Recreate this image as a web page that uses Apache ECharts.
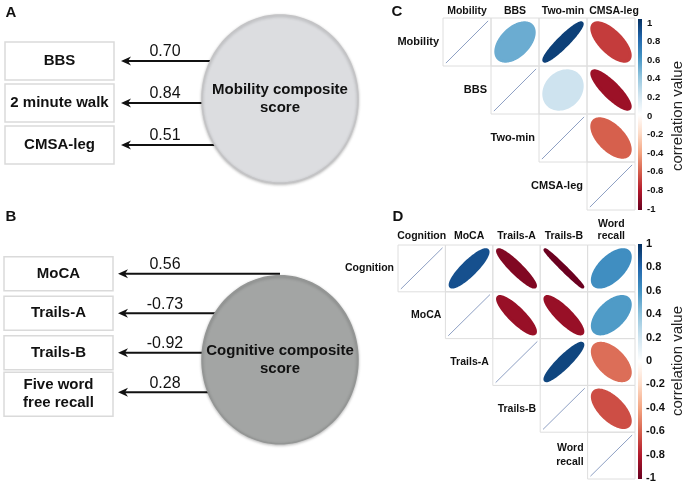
<!DOCTYPE html>
<html><head><meta charset="utf-8">
<script src="https://cdn.jsdelivr.net/npm/echarts@6/dist/echarts.min.js"></script>
<style>html,body{margin:0;padding:0;background:#fff}#c{width:686px;height:486px}</style>
</head><body><div id="c"></div>
<script>
// ---------- data ----------
const mobilityIndicators = ['BBS', '2 minute walk', 'CMSA-leg'];
const mobilityLoadings = [0.70, 0.84, 0.51];
const mobilityComposite = 'Mobility composite\nscore';
const cognitiveIndicators = ['MoCA', 'Trails-A', 'Trails-B', 'Five word\nfree recall'];
const cognitiveLoadings = [0.56, -0.73, -0.92, 0.28];
const cognitiveComposite = 'Cognitive composite\nscore';

const mobilityVars = ['Mobility', 'BBS', 'Two-min', 'CMSA-leg'];
const mobilityCorr = [
  [1, 0.50, 0.94, -0.70],
  [0.50, 1, 0.21, -0.86],
  [0.94, 0.21, 1, -0.60],
  [-0.70, -0.86, -0.60, 1]
];
const cognitionVars = ['Cognition', 'MoCA', 'Trails-A', 'Trails-B', 'Word\nrecall'];
const cognitionCorr = [
  [1, 0.88, -0.93, -0.99, 0.62],
  [0.88, 1, -0.87, -0.87, 0.57],
  [-0.93, -0.87, 1, 0.92, -0.56],
  [-0.99, -0.87, 0.92, 1, -0.65],
  [0.62, 0.57, -0.56, -0.65, 1]
];
const corrColors = ['#67001F', '#B2182B', '#D6604D', '#F4A582', '#FDDBC7', '#FFFFFF',
                    '#D1E5F0', '#92C5DE', '#4393C3', '#2166AC', '#053061'];
const legendLabel = 'correlation value';
const panelLetters = ['A', 'B', 'C', 'D'];

// ---------- helpers ----------
const FF = '"Liberation Sans", Arial, Helvetica, sans-serif';

function indicatorRender(names, loadings, L) {
  return function (params, api) {
    const i = api.value(1);
    const y = api.coord([0, i])[1];
    const name = names[params.dataIndex];
    const two = name.indexOf('\n') >= 0;
    const bh = two ? L.boxH2 : L.boxH;
    const tip = L.tip;
    return {
      type: 'group',
      children: [
        { type: 'rect', shape: { x: L.boxL, y: y - bh / 2 + (two ? 2 : 0), width: L.boxW, height: bh },
          style: { fill: '#fff', stroke: '#dadada', lineWidth: 1.5 } },
        { type: 'text', style: { text: name, x: L.boxL + L.boxW / 2, y: y + (two ? 2 : 0),
          align: 'center', verticalAlign: 'middle', textAlign: 'center', textVerticalAlign: 'middle',
          font: 'bold 15px ' + FF, fill: '#111', lineHeight: 18 } },
        { type: 'line', shape: { x1: L.cx, y1: y, x2: tip + 6, y2: y },
          style: { stroke: '#111', lineWidth: 2 } },
        { type: 'polygon', shape: { points: [[tip, y], [tip + 10, y - 4.5], [tip + 7, y], [tip + 10, y + 4.5]] },
          style: { fill: '#111' } },
        { type: 'text', style: { text: loadings[params.dataIndex].toFixed(2), x: L.numX, y: y - 9,
          align: 'center', verticalAlign: 'middle', textAlign: 'center', textVerticalAlign: 'middle',
          font: '16px ' + FF, fill: '#111' } }
      ]
    };
  };
}

function circleRender(label, L, fill, stroke) {
  return function (params, api) {
    const y = api.coord([0, api.value(1)])[1] + L.dy;
    const pts = [];
    for (let k = 0; k < 120; k++) {
      const t = k / 120 * Math.PI * 2;
      pts.push([L.cx + L.rx * Math.cos(t), y + L.ry * Math.sin(t)]);
    }
    return {
      type: 'group',
      children: [
        { type: 'polygon', shape: { points: pts },
          style: { fill: fill, stroke: stroke, lineWidth: 1.5, shadowBlur: 3, shadowColor: 'rgba(0,0,0,0.25)', shadowOffsetY: 1 } },
        { type: 'text', style: { text: label, x: L.cx, y: y, align: 'center', verticalAlign: 'middle',
          textAlign: 'center', textVerticalAlign: 'middle', font: 'bold 15px ' + FF, fill: '#111', lineHeight: 18 } }
      ]
    };
  };
}

function ellipsePoints(r, cx, cy, w, h) {
  const d = Math.acos(Math.max(-1, Math.min(1, r)));
  const pts = [];
  for (let k = 0; k < 90; k++) {
    const t = k / 90 * 2 * Math.PI;
    pts.push([cx + Math.cos(t + d / 2) / 2 * 0.80 * w, cy - Math.cos(t - d / 2) / 2 * 0.80 * h]);
  }
  return pts;
}

function corrRender(vars, fontSize, lh) {
  return function (params, api) {
    const j = api.value(0), i = api.value(1), r = api.value(2);
    const c = api.coord([j, i]);
    const s = api.size([1, 1]);
    const w = s[0], h = s[1];
    const children = [
      { type: 'rect', shape: { x: c[0] - w / 2, y: c[1] - h / 2, width: w, height: h },
        style: { fill: 'none', stroke: '#dedede', lineWidth: 1 } }
    ];
    if (i === j) {
      children.push({ type: 'line',
        shape: { x1: c[0] - 0.44 * w, y1: c[1] + 0.44 * h, x2: c[0] + 0.44 * w, y2: c[1] - 0.44 * h },
        style: { stroke: '#8ea0c4', lineWidth: 1 } });
      children.push({ type: 'text', style: { text: vars[i], x: c[0] - w / 2 - 4, y: c[1],
        align: 'right', verticalAlign: 'middle', textAlign: 'right', textVerticalAlign: 'middle',
        font: 'bold ' + fontSize + 'px ' + FF, fill: '#111', lineHeight: lh } });
    } else {
      const col = api.visual('color');
      children.push({ type: 'polygon', shape: { points: ellipsePoints(r, c[0], c[1], w, h) },
        style: { fill: col, stroke: col, lineWidth: 3, lineJoin: 'round' } });
    }
    return { type: 'group', children: children };
  };
}

function colorbarRender(extTop, extBot) {
  return function (params, api) {
    const top = api.coord([0, 1]);
    const bot = api.coord([0, -1]);
    const w = api.size([1, 0])[0];
    const stops = corrColors.slice().reverse().map((c, k) => ({ offset: k / (corrColors.length - 1), color: c }));
    return { type: 'rect', shape: { x: top[0] - w / 2, y: top[1] - extTop, width: w, height: bot[1] - top[1] + extTop + extBot },
      style: { fill: new echarts.graphic.LinearGradient(0, 0, 0, 1, stops) } };
  };
}

function corrData(matrix) {
  const out = [];
  for (let i = 0; i < matrix.length; i++)
    for (let j = i; j < matrix.length; j++) out.push([j, i, matrix[i][j]]);
  return out;
}

const layoutA = { boxL: 5, boxW: 109, boxH: 38, boxH2: 38, tip: 121, numX: 165, cx: 280 };
const layoutB = { boxL: 4, boxW: 109, boxH: 34, boxH2: 44, tip: 118, numX: 165, cx: 280 };
const circA = { cx: 280, rx: 78, ry: 84, dy: -4 };
const circB = { cx: 280, rx: 78, ry: 84, dy: 7 };

const hidden = { show: false };
function barAxis(grid, fs, margin, gap) {
  return { type: 'value', gridIndex: grid, min: -1, max: 1, interval: 0.2, position: 'right',
    axisLine: hidden, axisTick: hidden, splitLine: hidden,
    axisLabel: { fontSize: fs, fontWeight: 'bold', color: '#111', margin: margin, fontFamily: FF },
    name: legendLabel, nameLocation: 'middle', nameRotate: 90, nameGap: gap,
    nameTextStyle: { fontSize: 15, color: '#222', fontFamily: FF } };
}

const option = {
  animation: false,
  backgroundColor: '#fff',
  grid: [
    { left: 0, top: 40, width: 340, height: 126 },
    { left: 0, top: 254, width: 340, height: 158 },
    { left: 443, top: 18, width: 192, height: 192 },
    { left: 638, top: 23, width: 5, height: 186 },
    { left: 398, top: 245, width: 237, height: 234 },
    { left: 638, top: 244, width: 5, height: 234 }
  ],
  xAxis: [
    { type: 'value', gridIndex: 0, min: 0, max: 1, show: false },
    { type: 'value', gridIndex: 1, min: 0, max: 1, show: false },
    { type: 'category', gridIndex: 2, data: mobilityVars, position: 'top',
      axisLine: hidden, axisTick: hidden, splitLine: hidden,
      axisLabel: { fontSize: 10.5, fontWeight: 'bold', color: '#111', margin: 1, fontFamily: FF, interval: 0,
        formatter: (v, idx) => idx === mobilityVars.length - 1 ? '{r|' + v + '}' : v,
        rich: { r: { fontSize: 10.5, fontWeight: 'bold', color: '#111', fontFamily: FF, padding: [0, 0, 0, 6] } } } },
    { type: 'category', gridIndex: 3, data: [''], show: false },
    { type: 'category', gridIndex: 4, data: cognitionVars, position: 'top',
      axisLine: hidden, axisTick: hidden, splitLine: hidden,
      axisLabel: { fontSize: 10.5, fontWeight: 'bold', color: '#111', margin: 3, fontFamily: FF, interval: 0, lineHeight: 12 } },
    { type: 'category', gridIndex: 5, data: [''], show: false }
  ],
  yAxis: [
    { type: 'category', gridIndex: 0, data: mobilityIndicators, inverse: true, show: false },
    { type: 'category', gridIndex: 1, data: cognitiveIndicators, inverse: true, show: false },
    { type: 'category', gridIndex: 2, data: mobilityVars, inverse: true, show: false },
    barAxis(3, 9.5, 5, 28),
    { type: 'category', gridIndex: 4, data: cognitionVars, inverse: true, show: false },
    barAxis(5, 11, 4, 28)
  ],
  visualMap: {
    type: 'continuous', show: false, min: -1, max: 1, dimension: 2, seriesIndex: [4, 6],
    inRange: { color: corrColors }
  },
  series: [
    { type: 'custom', xAxisIndex: 0, yAxisIndex: 0, renderItem: indicatorRender(mobilityIndicators, mobilityLoadings, layoutA),
      data: mobilityIndicators.map((n, i) => [0, i, mobilityLoadings[i]]) },
    { type: 'custom', xAxisIndex: 1, yAxisIndex: 1, renderItem: indicatorRender(cognitiveIndicators, cognitiveLoadings, layoutB),
      data: cognitiveIndicators.map((n, i) => [0, i, cognitiveLoadings[i]]) },
    { type: 'custom', xAxisIndex: 0, yAxisIndex: 0, renderItem: circleRender(mobilityComposite, circA, '#dcdde0', '#c4c4c6'),
      data: [[0, (mobilityIndicators.length - 1) / 2]] },
    { type: 'custom', xAxisIndex: 1, yAxisIndex: 1, renderItem: circleRender(cognitiveComposite, circB, '#a3a5a4', '#949695'),
      data: [[0, (cognitiveIndicators.length - 1) / 2]] },
    { type: 'custom', xAxisIndex: 2, yAxisIndex: 2, renderItem: corrRender(mobilityVars, 11, 13), data: corrData(mobilityCorr) },
    { type: 'custom', xAxisIndex: 3, yAxisIndex: 3, renderItem: colorbarRender(4, 1), data: [[0, 0]] },
    { type: 'custom', xAxisIndex: 4, yAxisIndex: 4, renderItem: corrRender(cognitionVars, 10.5, 14), data: corrData(cognitionCorr) },
    { type: 'custom', xAxisIndex: 5, yAxisIndex: 5, renderItem: colorbarRender(0, 1), data: [[0, 0]] }
  ],
  graphic: [
    [11, 13], [11, 217], [397, 12], [398, 217]
  ].map((p, k) => ({
    type: 'text', x: p[0], y: p[1],
    style: { text: panelLetters[k], font: 'bold 15px ' + FF, fill: '#111',
      align: 'center', verticalAlign: 'middle', textAlign: 'center', textVerticalAlign: 'middle' }
  }))
};

const chart = echarts.init(document.getElementById('c'), null, { renderer: 'canvas' });
chart.setOption(option);
</script>
</body></html>
